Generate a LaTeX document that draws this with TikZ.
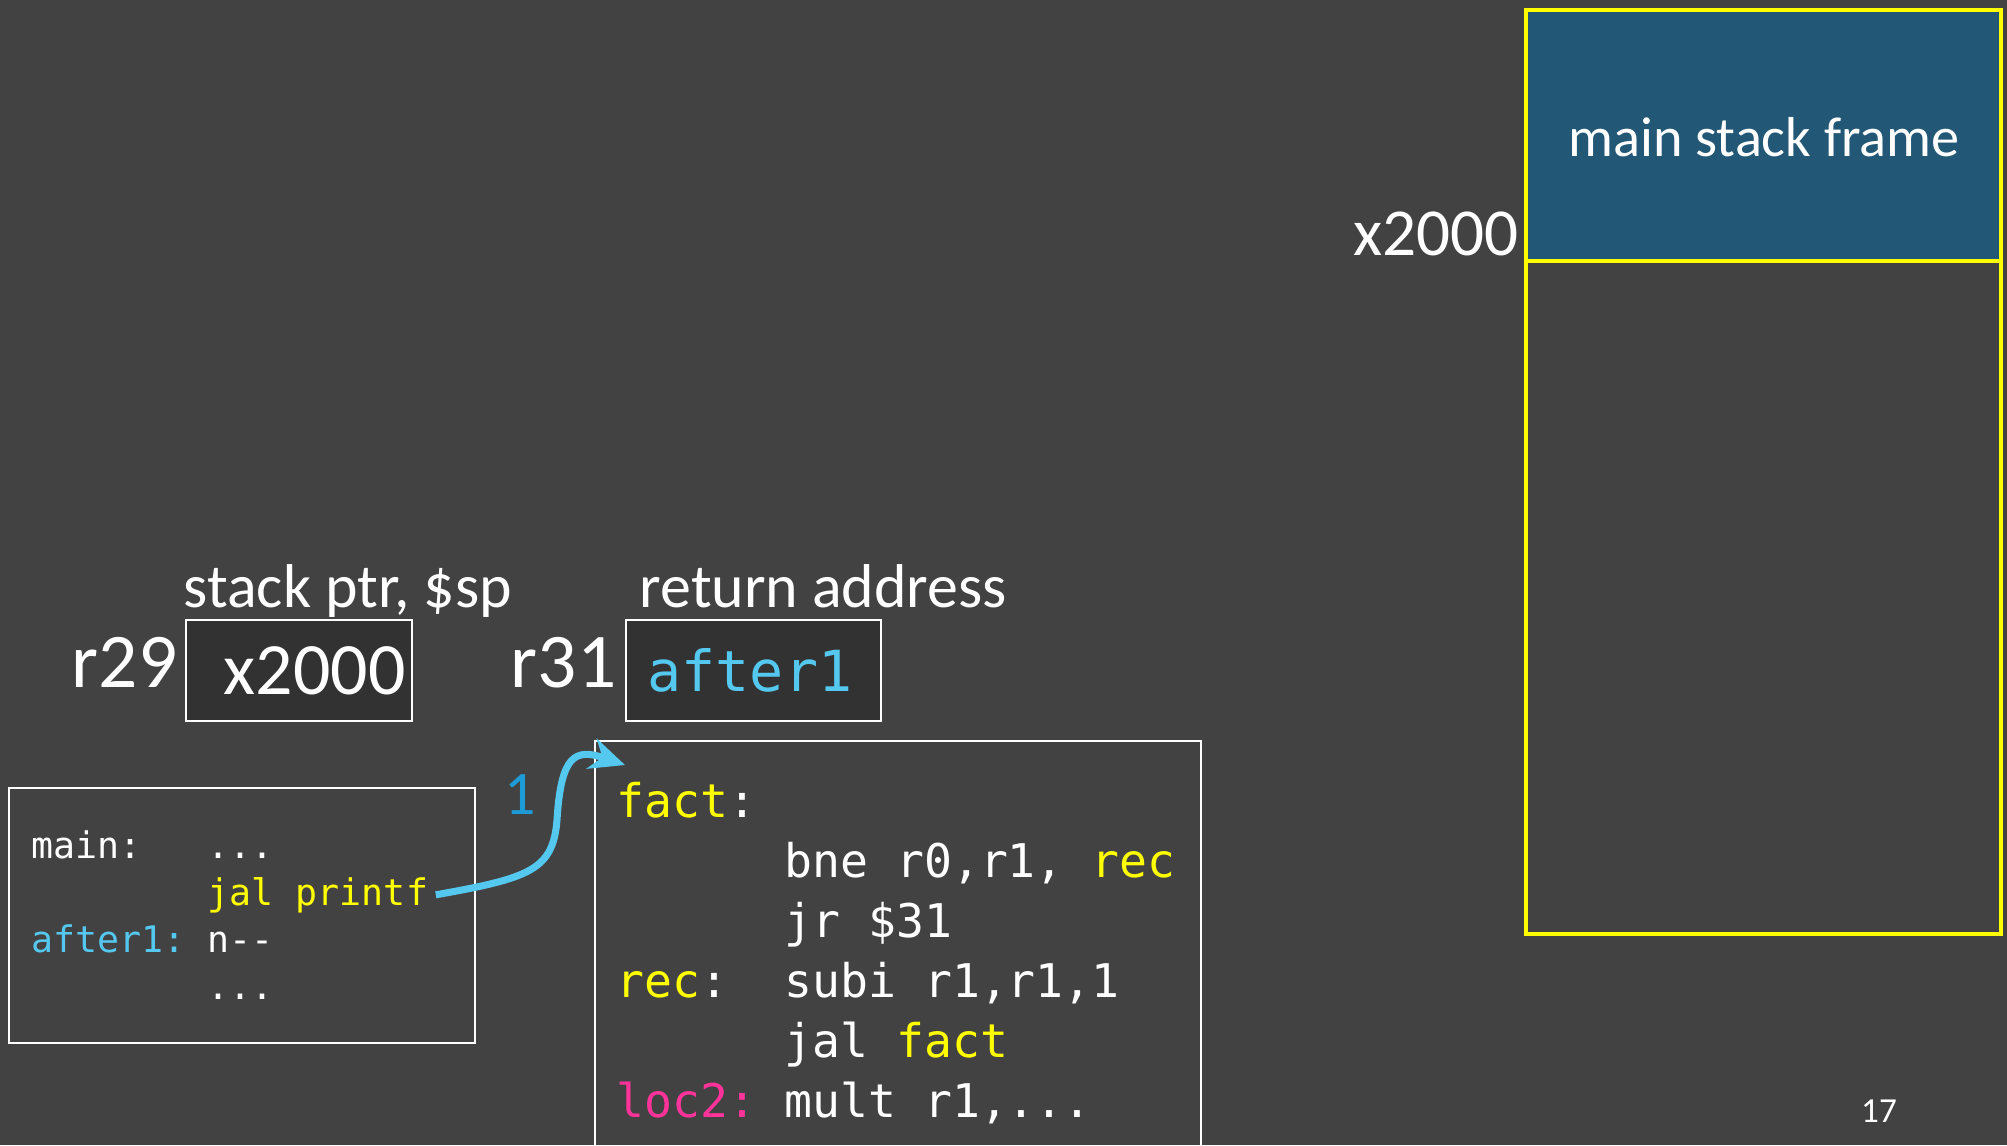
\documentclass[tikz,border=0pt]{standalone}
\usepackage{fontspec}
\setmainfont{Carlito}
\setmonofont{DejaVu Sans Mono}
\usetikzlibrary{arrows.meta}

\definecolor{slidebg}{RGB}{66,66,66}
\definecolor{regfill}{RGB}{50,50,50}
\definecolor{framefill}{RGB}{34,87,117}
\definecolor{codeyel}{RGB}{255,255,0}
\definecolor{codecyan}{RGB}{85,200,240}
\definecolor{codepink}{RGB}{255,51,153}
\definecolor{stepblue}{RGB}{30,155,215}

\newcommand{\tdots}{.{}.{}.}

\begin{document}
\begin{tikzpicture}[
            x=0.01cm, y=-0.01cm,
            txt/.style={text=white, inner sep=0pt, font=\fontsize{17.6}{21}\selectfont},
            regname/.style={text=white, inner sep=0pt, anchor=base east, font=\fontsize{22}{26}\selectfont},
            regbox/.style={draw=white, line width=0.8pt, fill=regfill, minimum height=1.01cm, inner sep=0pt},
            smallcode/.style={text=white, inner sep=0pt, anchor=base west, font=\ttfamily\fontsize{10.4}{12}\selectfont},
            bigcode/.style={text=white, inner sep=0pt, anchor=base west, font=\ttfamily\fontsize{13.2}{16}\selectfont},
            codebox/.style={draw=white, line width=0.8pt},
        ]
            \fill[slidebg] (0,0) rectangle (2007,1145);
            \useasboundingbox (0,0) rectangle (2007,1145);
            
            \fill[framefill] (1526,10) rectangle (2001,261);
            \draw[codeyel, line width=1pt] (1526,10) rectangle (2001,934);
            \draw[codeyel, line width=1pt] (1526,261) -- (2001,261);
            \node[txt, anchor=base, font=\fontsize{16}{19}\selectfont] (frame) at (1764,156) {main stack frame};
            \node[txt, anchor=base east, font=\fontsize{19.1}{23}\selectfont] (spaddr) at (1519,255) {x2000};
            
            \node[regbox, minimum width=2.26cm, text=white, font=\fontsize{21}{25}\selectfont] (spreg) at (299,670.5) {\hspace*{9pt}x2000};
            \node[regname] (r29) at (178,687) {r29};
            \node[txt, anchor=base west] (sptxt) at (183,607) {stack ptr, \$sp};
            
            \node[regbox, minimum width=2.55cm, text=codecyan, font=\ttfamily\fontsize{16.1}{19}\selectfont] (rareg) at (753.5,670.5) {after1\hspace*{2pt}};
            \node[regname] (r31) at (617,687) {r31};
            \node[txt, anchor=base west] (ratxt) at (639,607) {return address};
            
            \draw[codebox] (9,788) rectangle (475,1043);
            \foreach \line [count=\i from 0] in {
                {main:\phantom{xxx}\tdots},
                {\phantom{xxxxxxxx}\textcolor{codeyel}{jal printf}},
                {\textcolor{codecyan}{after1:} n-{}-},
                {\phantom{xxxxxxxx}\tdots}}
                \node[smallcode] (main-\i) at (31,858+47*\i) {\line};
            
            \draw[codebox] (595,1145) |- (1201,741) -- (1201,1145);
            \foreach \line [count=\i from 0] in {
                {\textcolor{codeyel}{fact}:},
                {\phantom{xxxxxx}bne r0,r1, \textcolor{codeyel}{rec}},
                {\phantom{xxxxxx}jr \$31},
                {\textcolor{codeyel}{rec}:\phantom{xx}subi r1,r1,1},
                {\phantom{xxxxxx}jal \textcolor{codeyel}{fact}},
                {\textcolor{codepink}{loc2:} mult r1,\tdots}}
                \node[bigcode] (fact-\i) at (616,817+60*\i) {\line};
            
            \coordinate (factentry) at (625,765);
            \draw[codecyan, line width=2pt, -{Stealth[length=10pt, width=9pt]}]
                ([xshift=2pt]main-1.east) .. controls (530,878) and (553,870) .. (557,820)
                .. controls (561,755) and (575,748) .. (factentry);
            \node[txt, text=stepblue] (step1) at (520,795) {1};
            
            \node[txt, anchor=base, font=\fontsize{10}{12}\selectfont] (pagenum) at (1879,1122) {17};
        \end{tikzpicture}
\end{document}
